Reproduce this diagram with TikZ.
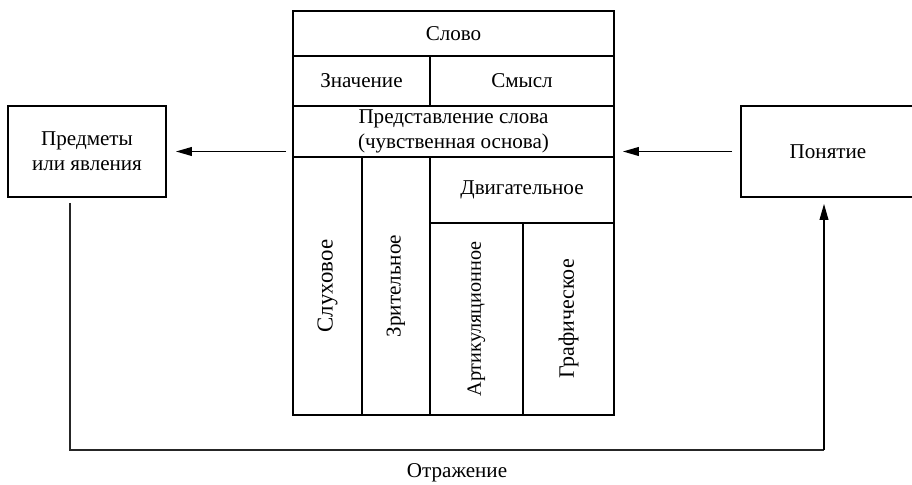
\documentclass[tikz,border=0pt]{standalone}
\usepackage{fontspec}
\setmainfont{Liberation Serif}
\usepackage{tikz}
\usetikzlibrary{arrows.meta, positioning, calc}
\tikzset{
  cell/.style={draw, line width=1.1pt, inner sep=0pt, align=center},
  box/.style={draw, line width=1.1pt, inner sep=2pt, align=center,
              minimum height=1.82cm},
  arr/.style={-{Triangle[length=9pt, width=5pt]}, line width=0.7pt},
  line/.style={line width=0.6pt, black!85},
}

\begin{document}
\begin{tikzpicture}[every node/.style={font=\fontsize{12}{14}\selectfont}]
    \useasboundingbox (0,0) rectangle (18.24,9.70);
    % table
    \node[cell, minimum width=6.42cm, minimum height=0.90cm] (word) at (9.07, 9.03) {Слово};
    \node[cell, minimum width=2.74cm, minimum height=1.00cm] (meaning) at (7.23, 8.08) {Значение};
    \node[cell, minimum width=3.68cm, minimum height=1.00cm] (sense) at (10.44, 8.08) {Смысл};
    \node[cell, minimum width=6.42cm, minimum height=1.02cm] (repr) at (9.07, 7.07)
      {Представление слова\\(чувственная основа)};
    \node[cell, rotate=90, minimum width=5.16cm, minimum height=1.38cm,
          font=\fontsize{13}{15}\selectfont] (audit) at (6.55, 3.98) {Слуховое};
    \node[cell, rotate=90, minimum width=5.16cm, minimum height=1.36cm] (visual) at (7.92, 3.98) {Зрительное};
    \node[cell, minimum width=3.68cm, minimum height=1.32cm] (motor) at (10.44, 5.90) {Двигательное};
    \node[cell, rotate=90, minimum width=3.84cm, minimum height=1.86cm,
          font=\fontsize{11.5}{13}\selectfont] (artic) at (9.53, 3.32) {Артикуляционное};
    \node[cell, rotate=90, minimum width=3.84cm, minimum height=1.82cm,
          font=\fontsize{12.5}{14}\selectfont] (graph) at (11.37, 3.32) {Графическое};
    
    % side boxes
    \node[box, minimum width=3.16cm] (objects) at (1.74, 6.67) {Предметы\\или явления};
    \node[box, minimum width=3.48cm] (concept) at (16.56, 6.67) {Понятие};
    
    \draw[arr, shorten <=0.12cm, shorten >=0.18cm] (repr.west |- objects.east) -- (objects.east);
    \draw[arr, shorten <=0.16cm, shorten >=0.16cm] (concept.west) -- (repr.east |- concept.west);
    
    % reflection loop
    \coordinate (lb) at (1.40, 0.70);
    \coordinate (rb) at (16.48, 0.70);
    \draw[line] ([yshift=-0.1cm]objects.south -| lb) -- (lb) -- (rb);
    \draw[arr, line width=0.6pt, shorten >=0.12cm] (rb) -- (rb |- concept.south);
    \node (reflect) at (9.14, 0.24) {Отражение};
  \end{tikzpicture}
\end{document}
